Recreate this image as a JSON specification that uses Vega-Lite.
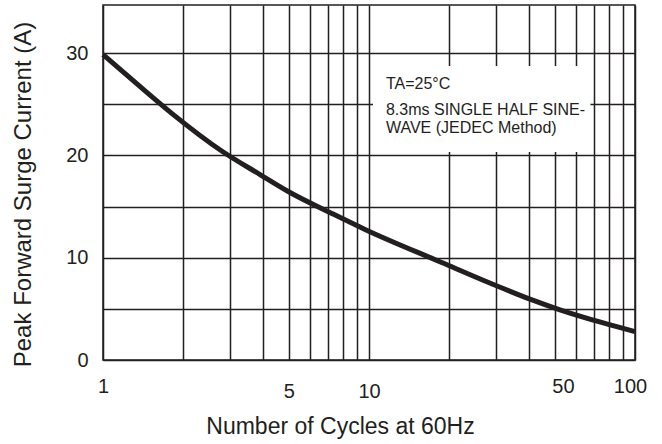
{
  "$schema": "https://vega.github.io/schema/vega-lite/v6.json",
  "width": 532,
  "height": 355,
  "autosize": {"type": "none"},
  "padding": {"left": 103, "top": 5, "right": 27, "bottom": 84},
  "background": "white",
  "config": {
    "view": {"stroke": "#231f20", "strokeWidth": 1.5},
    "font": "Liberation Sans",
    "axis": {
      "grid": true,
      "gridColor": "#231f20",
      "gridWidth": 1.5,
      "gridOpacity": 1,
      "domain": false,
      "ticks": false,
      "labelFont": "Liberation Sans",
      "titleFont": "Liberation Sans",
      "labelColor": "#231f20",
      "titleColor": "#231f20",
      "labelFontSize": 20,
      "titleFontWeight": "normal"
    }
  },
  "datasets": {
    "curve": [
      {"x": 1, "y": 29.86},
      {"x": 1.342, "y": 26.98},
      {"x": 1.813, "y": 24.11},
      {"x": 2.794, "y": 20.43},
      {"x": 3.893, "y": 18.13},
      {"x": 5.047, "y": 16.37},
      {"x": 7.322, "y": 14.27},
      {"x": 9.66, "y": 12.76},
      {"x": 18.77, "y": 9.53},
      {"x": 28.75, "y": 7.48},
      {"x": 40.05, "y": 5.98},
      {"x": 52.24, "y": 4.91},
      {"x": 76.01, "y": 3.62},
      {"x": 100, "y": 2.77}
    ],
    "box": [
      {"x": 10.35, "x2": 68, "y": 28.74, "y2": 20.33}
    ],
    "notes": [
      {"x": 11.58, "y": 26.46, "label": "TA=25°C"},
      {"x": 11.58, "y": 23.95, "label": "8.3ms SINGLE HALF SINE-"},
      {"x": 11.58, "y": 22.16, "label": "WAVE (JEDEC Method)"}
    ]
  },
  "encoding": {
    "x": {
      "field": "x",
      "type": "quantitative",
      "scale": {"type": "log", "domain": [1, 100], "nice": false},
      "axis": {
        "title": "Number of Cycles at 60Hz",
        "titleFontSize": 23,
        "titleX": 237,
        "titleY": 73,
        "titleAlign": "center",
        "titleBaseline": "alphabetic",
        "values": [1, 2, 3, 4, 5, 6, 7, 8, 9, 10, 20, 30, 40, 50, 60, 70, 80, 90, 100],
        "labelExpr": "(datum.value == 1 || datum.value == 5 || datum.value == 10 || datum.value == 50 || datum.value == 100) ? datum.value : ''",
        "labelFlush": false,
        "labelOverlap": false,
        "labelPadding": {"condition": {"test": "datum.value == 5 || datum.value == 10", "value": 21}, "value": 16},
        "labelOffset": {"condition": [{"test": "datum.value == 100", "value": -5}, {"test": "datum.value == 50", "value": 8}], "value": 0}
      }
    },
    "y": {
      "field": "y",
      "type": "quantitative",
      "scale": {"domain": [0, 34.7], "nice": false, "zero": true},
      "axis": {
        "title": "Peak Forward Surge Current (A)",
        "titleFontSize": 24,
        "titleX": -80,
        "titleY": 189,
        "titleAlign": "center",
        "titleBaseline": "middle",
        "values": [0, 5, 10, 15, 20, 25, 30],
        "labelExpr": "datum.value % 10 == 0 ? datum.value : ''",
        "labelPadding": 15,
        "labelOverlap": false
      }
    }
  },
  "layer": [
    {
      "data": {"name": "curve"},
      "mark": {"type": "line", "color": "#231f20", "strokeWidth": 5, "interpolate": "monotone"}
    },
    {
      "data": {"name": "box"},
      "mark": {"type": "rect", "fill": "white", "stroke": null},
      "encoding": {
        "x2": {"field": "x2"},
        "y2": {"field": "y2"}
      }
    },
    {
      "data": {"name": "notes"},
      "mark": {"type": "text", "align": "left", "baseline": "alphabetic", "fontSize": 16, "color": "#231f20", "font": "Liberation Sans"},
      "encoding": {
        "text": {"field": "label", "type": "nominal"}
      }
    }
  ]
}
